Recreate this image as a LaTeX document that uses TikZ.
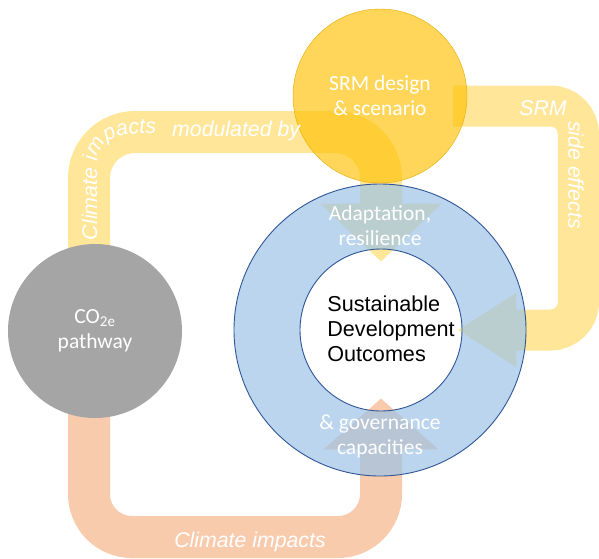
\documentclass[tikz,border=0pt]{standalone}
\usepackage{fontspec}
\setmainfont{Carlito}
\newfontfamily\arial{Liberation Sans}
\usetikzlibrary{arrows.meta,backgrounds,decorations.text}

\definecolor{bandyellow}{HTML}{FFE699}
\definecolor{bandorange}{HTML}{F8CBAD}
\definecolor{srmgold}{HTML}{FFC000}
\definecolor{srmedge}{HTML}{E8AA00}
\definecolor{ringblue}{HTML}{9DC3E6}
\definecolor{ringedge}{HTML}{2F5597}
\definecolor{co2grey}{HTML}{A5A5A5}

\begin{document}
\begin{tikzpicture}
  [x=1pt,y=-1pt,
   hub/.style={circle,inner sep=0pt,align=center,text=white,font=\fontsize{21.5}{25}\selectfont},
   ringtext/.style={text=white,align=center,font=\fontsize{21.5}{25}\selectfont},
   bandtext/.style={text=white,font=\arial\itshape\fontsize{21.3}{25}\selectfont},
   band/.style={line width=42pt}]
  \useasboundingbox (0,0) rectangle (599,558);

  \node[hub,draw=ringedge,line width=.9pt,minimum size=292pt] (ring) at (380,330) {};
  \node[hub,draw=ringedge,line width=.9pt,minimum size=162pt] (sdo) at (381,330) {};
  \node[hub,fill=co2grey,minimum size=174pt] (co2) at (95,331) {CO\textsubscript{2e}\\pathway};
  \node[hub,fill=srmgold,fill opacity=.65,text opacity=1,draw=srmedge,minimum size=174pt] (srm) at (380,96) {SRM design\\\& scenario};

  \node[align=left,font=\arial\fontsize{21.6}{25}\selectfont] (goal) at (391,329) {Sustainable\\Development\\Outcomes};
  \node[ringtext] (adapt) at (380,226) {Adaptation,\\resilience};
  \node[ringtext] (gov) at (380,436) {\& governance\\capacities};
  \node[bandtext,anchor=base] (impact) at (250,547) {Climate impacts};
  \node[bandtext,anchor=base west,inner sep=0pt] (modlbl) at (172,136) {modulated by};
  \node[bandtext,anchor=base] (srmlbl) at (543,115) {SRM};
  \node[bandtext,rotate=-90] (effects) at (576,175) {side effects};

  \path[decorate,decoration={text along path,text color=white,
    text={|\arial\itshape\fontsize{21.3}{25}\selectfont|Climate impacts}}]
    (97,240) -- (97,166) .. controls (97,138) and (118,133) .. (160,133) -- (200,133);

  \begin{scope}[on background layer]
    \draw[band,draw=bandyellow,rounded corners=46pt,-{Triangle[length=58pt,width=118pt]}]
      ([xshift=-6pt]co2.center) -- ++(0,-199) -| ([yshift=-13pt]sdo.north);
    \draw[band,draw=bandyellow,line width=41pt,rounded corners=28pt,-{Triangle[length=59pt,width=70pt]}]
      ([shift={(-14pt,-10pt)}]srm.east) -| ([xshift=116pt]sdo.east) -- ([xshift=-5pt]sdo.east);
    \draw[band,draw=bandorange,rounded corners=43pt,-{Triangle[length=51pt,width=112pt]}]
      ([xshift=-6pt]co2.center) -- ++(0,206) -| ([yshift=13pt]sdo.south);
    \fill[ringblue,fill opacity=.7,even odd rule]
      (ring.center) circle[radius=146pt] (sdo.center) circle[radius=81pt];
  \end{scope}
\end{tikzpicture}
\end{document}
